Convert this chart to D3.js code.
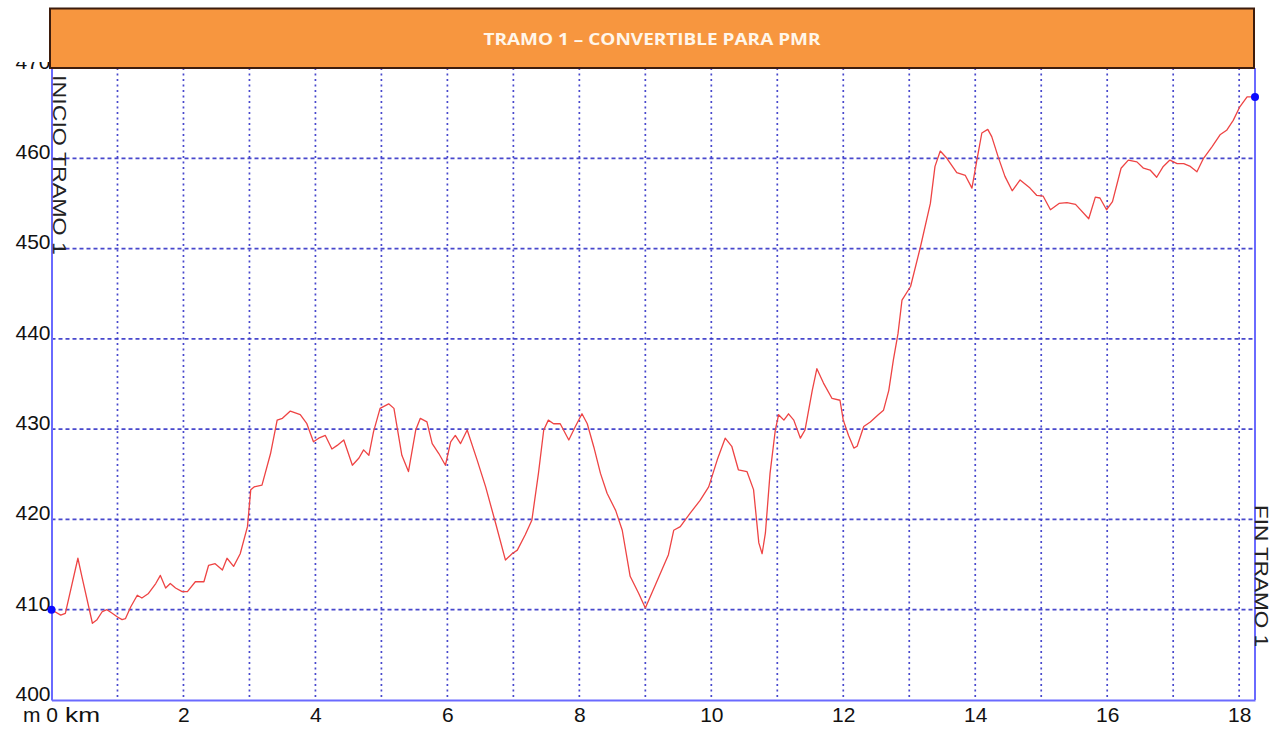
<!DOCTYPE html>
<html>
<head>
<meta charset="utf-8">
<script src="https://cdn.jsdelivr.net/npm/d3@7"></script>
<style>
  html, body { margin: 0; padding: 0; background: #fff; }
  svg { display: block; }
</style>
</head>
<body>
<svg id="chart" width="1275" height="729"></svg>
<script>
// ---- data ----
const distanceKm = [0.00,0.14,0.21,0.40,0.46,0.62,0.69,0.77,0.84,0.92,1.00,1.07,1.12,1.20,1.30,1.37,1.47,1.58,1.65,1.73,1.80,1.88,1.98,2.06,2.18,2.31,2.38,2.48,2.59,2.66,2.76,2.86,2.97,3.02,3.07,3.19,3.32,3.42,3.50,3.62,3.77,3.87,3.97,4.05,4.15,4.25,4.33,4.43,4.56,4.66,4.73,4.81,4.88,4.98,5.11,5.19,5.31,5.41,5.52,5.59,5.69,5.77,5.87,5.97,6.05,6.12,6.20,6.30,6.45,6.58,6.73,6.88,6.98,7.06,7.18,7.28,7.38,7.46,7.53,7.61,7.71,7.84,7.94,8.04,8.12,8.22,8.32,8.42,8.55,8.65,8.77,8.90,9.00,9.15,9.35,9.43,9.53,9.68,9.83,9.96,10.09,10.21,10.31,10.41,10.54,10.64,10.72,10.77,10.82,10.89,10.97,11.02,11.10,11.17,11.25,11.35,11.42,11.53,11.60,11.70,11.83,11.95,12.00,12.08,12.16,12.21,12.31,12.41,12.53,12.61,12.69,12.76,12.83,12.89,13.02,13.17,13.32,13.39,13.47,13.57,13.72,13.85,13.95,14.02,14.10,14.19,14.25,14.35,14.45,14.56,14.68,14.83,14.93,15.03,15.14,15.27,15.39,15.52,15.72,15.82,15.89,15.99,16.08,16.21,16.32,16.45,16.55,16.65,16.75,16.85,16.95,17.06,17.16,17.26,17.36,17.46,17.59,17.71,17.81,17.91,18.01,18.12,18.24];
const elevationM = [410.0,409.4,409.6,415.7,413.7,408.5,408.9,409.8,410.0,409.6,409.2,408.9,409.0,410.3,411.6,411.3,411.8,412.9,413.8,412.4,412.9,412.4,412.0,412.0,413.1,413.1,414.9,415.1,414.4,415.7,414.8,416.2,419.2,423.3,423.6,423.8,427.3,431.0,431.2,432.0,431.6,430.6,428.6,429.0,429.3,427.8,428.2,428.8,426.0,426.8,427.7,427.1,429.7,432.3,432.8,432.3,427.1,425.3,429.9,431.2,430.8,428.4,427.3,426.0,428.6,429.3,428.4,429.9,426.6,423.6,419.6,415.5,416.2,416.6,418.3,419.9,425.1,429.9,431.0,430.6,430.6,428.8,430.3,431.7,430.6,428.0,425.1,422.9,421.0,418.8,413.7,411.8,410.2,412.7,416.1,418.8,419.2,420.7,422.1,423.6,426.6,429.0,428.1,425.5,425.3,423.3,417.4,416.2,418.5,425.1,429.9,431.6,431.0,431.7,431.0,429.0,429.9,434.3,436.7,435.1,433.4,433.2,431.0,429.3,427.9,428.1,430.3,430.8,431.6,432.1,434.3,437.7,440.6,444.3,445.8,450.2,455.0,459.1,460.8,460.0,458.4,458.1,456.7,459.6,462.8,463.2,462.4,460.1,458.0,456.4,457.6,456.7,455.9,455.8,454.3,455.0,455.1,454.9,453.3,455.7,455.6,454.3,455.2,458.9,459.8,459.6,458.9,458.7,457.9,459.1,459.8,459.4,459.4,459.1,458.5,460.0,461.3,462.6,463.1,464.2,465.7,466.8,466.8];
const yTicks = [400, 410, 420, 430, 440, 450, 460, 470];
const xLabelTicks = [0, 2, 4, 6, 8, 10, 12, 14, 16, 18];
const xGridKm = [1,2,3,4,5,6,7,8,9,10,11,12,13,14,15,16,17,18];
const yGridM = [410, 420, 430, 440, 450, 460];
const markers = [{km: 0.00, m: 410.0}, {km: 18.24, m: 466.8}];
const titleText = "TRAMO 1 \u2013 CONVERTIBLE PARA PMR";
const startLabel = "INICIO TRAMO 1";
const endLabel = "FIN TRAMO 1";

// ---- layout ----
const plotL = 51.5, plotR = 1255, plotT = 68, plotB = 700;
const x = d3.scaleLinear().domain([0, 18.24]).range([plotL, plotR]);
const y = d3.scaleLinear().domain([400, 470]).range([plotB, plotT]);
const font = "Liberation Sans, Arial, sans-serif";

const svg = d3.select("#chart");
svg.append("rect").attr("width", 1275).attr("height", 729).attr("fill", "#fff");

const gridColor = "#3535c8";
// vertical grid
svg.append("g").selectAll("line").data(xGridKm).join("line")
  .attr("x1", d => x(d)).attr("x2", d => x(d))
  .attr("y1", plotT).attr("y2", plotB)
  .attr("stroke", gridColor).attr("stroke-width", 1.7)
  .attr("stroke-dasharray", "2,3.5").attr("opacity", 0.9);
// horizontal grid
svg.append("g").selectAll("line").data(yGridM).join("line")
  .attr("x1", plotL).attr("x2", plotR)
  .attr("y1", d => y(d)).attr("y2", d => y(d))
  .attr("stroke", gridColor).attr("stroke-width", 1.7)
  .attr("stroke-dasharray", "4,3").attr("opacity", 0.9);

// axes
const axisColor = "#6a6aff";
const yAxis = svg.append("g").attr("transform", `translate(${plotL},0)`)
  .call(d3.axisLeft(y).tickValues(yTicks).tickSize(0).tickPadding(1).tickFormat(d3.format("d")));
const xAxis = svg.append("g").attr("transform", `translate(0,${plotB})`)
  .call(d3.axisBottom(x).tickValues(xLabelTicks).tickSize(0).tickPadding(7).tickFormat(d3.format("d")));
[yAxis, xAxis].forEach(g => {
  g.select(".domain").attr("stroke", axisColor).attr("stroke-width", 2);
  g.selectAll("text").attr("fill", "#111").attr("font-family", font).attr("font-size", 21);
});
yAxis.selectAll("text").attr("dy", "0.02em");
// right border
svg.append("line").attr("x1", plotR).attr("x2", plotR).attr("y1", plotT).attr("y2", plotB)
  .attr("stroke", axisColor).attr("stroke-width", 2);

// unit labels
const baseY = plotB + 7 + 0.71 * 21;
svg.append("text").attr("x", 23).attr("y", baseY).text("m")
  .attr("font-family", font).attr("font-size", 21).attr("fill", "#111");
svg.append("text").attr("x", 65).attr("y", baseY).text("km")
  .attr("font-family", font).attr("font-size", 21).attr("fill", "#111")
  .attr("textLength", 35).attr("lengthAdjust", "spacingAndGlyphs");

// profile line
const pts = distanceKm.map((d, i) => [d, elevationM[i]]);
svg.append("path").datum(pts)
  .attr("d", d3.line().x(d => x(d[0])).y(d => y(d[1])))
  .attr("fill", "none").attr("stroke", "#ee4444").attr("stroke-width", 1.3)
  .attr("stroke-linejoin", "round");

// markers
svg.append("g").selectAll("circle").data(markers).join("circle")
  .attr("cx", d => x(d.km)).attr("cy", d => y(d.m)).attr("r", 4)
  .attr("fill", "#0a0aff");

// rotated labels
svg.append("text").attr("transform", `translate(53,75) rotate(90)`)
  .text(startLabel).attr("font-family", font).attr("font-size", 18)
  .attr("fill", "#222").attr("textLength", 180).attr("lengthAdjust", "spacingAndGlyphs");
svg.append("text").attr("transform", `translate(1255,505) rotate(90)`)
  .text(endLabel).attr("font-family", font).attr("font-size", 18)
  .attr("fill", "#222").attr("textLength", 142).attr("lengthAdjust", "spacingAndGlyphs");

// top cover and title banner
svg.append("rect").attr("x", 0).attr("y", 0).attr("width", 1275).attr("height", 62).attr("fill", "#fff");
svg.append("rect").attr("x", 50).attr("y", 8.5).attr("width", 1204).attr("height", 59.5)
  .attr("fill", "#f7963f").attr("stroke", "#3d1c0c").attr("stroke-width", 2);
svg.append("text").attr("x", 652).attr("y", 44.5).attr("text-anchor", "middle")
  .text(titleText).attr("font-family", "Open Sans, sans-serif").attr("font-weight", "bold")
  .attr("font-size", 16).attr("fill", "#fff6ea")
  .attr("textLength", 337).attr("lengthAdjust", "spacingAndGlyphs");
</script>
</body>
</html>
